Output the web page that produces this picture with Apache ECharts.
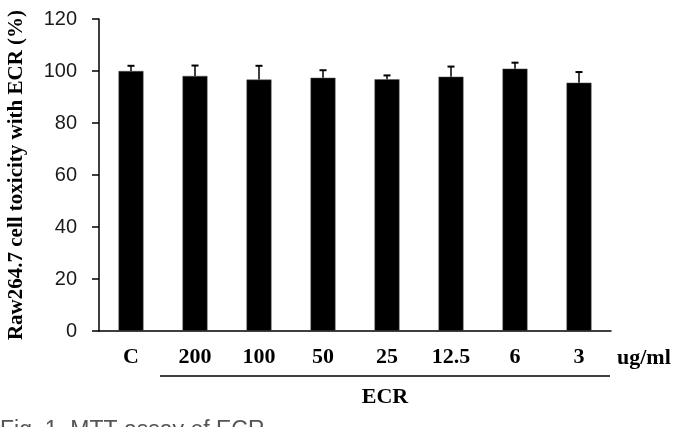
<!DOCTYPE html>
<html>
<head>
<meta charset="utf-8">
<script src="https://cdn.jsdelivr.net/npm/echarts@6/dist/echarts.min.js"></script>
<style>html,body{margin:0;padding:0;background:#fff;}#c{width:680px;height:427px;}</style>
</head>
<body>
<div id="c"></div>
<script>
var categories = ['C', '200', '100', '50', '25', '12.5', '6', '3'];
var values = [100, 98.1, 96.7, 97.4, 96.8, 97.8, 100.9, 95.5];
var errUpper = [102, 102.1, 102, 100.3, 98.3, 101.7, 103.2, 99.6];
var yTicks = [0, 20, 40, 60, 80, 100, 120];

var chart = echarts.init(document.getElementById('c'), null, {renderer: 'canvas'});
var serif = '"Liberation Serif", "Times New Roman", serif';
var sans = '"Liberation Sans", Arial, sans-serif';

var errData = values.map(function (v, i) { return [i, v, errUpper[i]]; });

chart.setOption({
  animation: false,
  backgroundColor: '#fff',
  grid: {left: 99, right: 69, top: 19, bottom: 96, containLabel: false},
  xAxis: {
    type: 'category',
    data: categories,
    axisLine: {show: true, lineStyle: {color: '#000', width: 1.5}},
    axisTick: {show: false},
    axisLabel: {color: '#000', fontFamily: serif, fontWeight: 'bold', fontSize: 22, margin: 15}
  },
  yAxis: {
    type: 'value',
    min: 0, max: 120, interval: 20,
    axisLine: {show: true, lineStyle: {color: '#000', width: 1.5}},
    axisTick: {show: true, length: 7, lineStyle: {color: '#000', width: 1.5}},
    splitLine: {show: false},
    axisLabel: {color: '#1a1a1a', fontFamily: sans, fontSize: 20, margin: 22,
      formatter: function (v) { return yTicks.indexOf(v) >= 0 ? String(v) : ''; }}
  },
  series: [
    {
      type: 'bar',
      data: values,
      barWidth: '39%',
      itemStyle: {color: '#000', borderColor: '#555', borderWidth: 0.5},
      z: 2
    },
    {
      type: 'custom',
      data: errData,
      z: 3,
      renderItem: function (params, api) {
        var i = api.value(0);
        var p0 = api.coord([i, api.value(1)]);
        var p1 = api.coord([i, api.value(2)]);
        var hw = 3.5;
        return {
          type: 'group',
          children: [
            {type: 'line', shape: {x1: p0[0], y1: p0[1], x2: p1[0], y2: p1[1]}, style: {stroke: '#000', lineWidth: 1.5}},
            {type: 'line', shape: {x1: p1[0] - hw, y1: p1[1], x2: p1[0] + hw, y2: p1[1]}, style: {stroke: '#000', lineWidth: 2}}
          ]
        };
      }
    }
  ],
  graphic: [
    {type: 'text', x: 617, y: 358, style: {text: 'ug/ml', fill: '#000', font: 'bold 22px ' + serif, textVerticalAlign: 'middle'}},
    {type: 'line', shape: {x1: 160, y1: 376, x2: 610, y2: 376}, style: {stroke: '#000', lineWidth: 1.5}},
    {type: 'text', x: 385, y: 397, style: {text: 'ECR', fill: '#000', font: 'bold 22px ' + serif, textAlign: 'center', textVerticalAlign: 'middle'}},
    {type: 'text', x: 17, y: 175, rotation: Math.PI / 2, style: {text: 'Raw264.7 cell toxicity with ECR (%)', fill: '#000', font: 'bold 21px ' + serif, textAlign: 'center', textVerticalAlign: 'middle'}},
    {type: 'text', x: 0, y: 419, style: {text: 'Fig. 1. MTT assay of ECR', fill: '#555', font: '23px ' + sans, textVerticalAlign: 'top'}}
  ]
});
</script>
</body>
</html>
